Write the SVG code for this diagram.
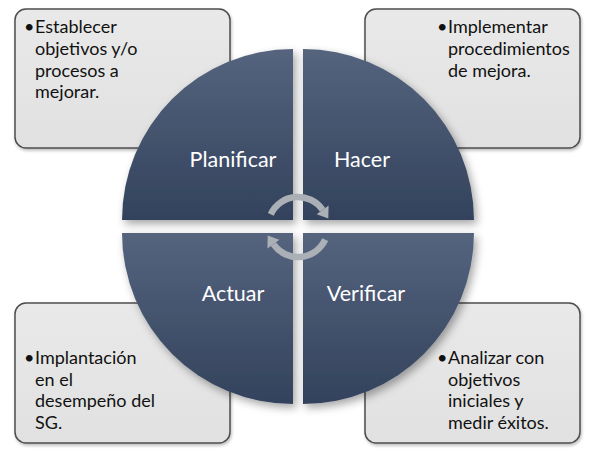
<svg xmlns="http://www.w3.org/2000/svg" width="600" height="452" viewBox="0 0 600 452">
<defs>
<linearGradient id="qg" x1="0" y1="0" x2="0" y2="1">
<stop offset="0" stop-color="#55647e"/>
<stop offset="1" stop-color="#33425c"/>
</linearGradient>
<linearGradient id="bg" x1="0" y1="0" x2="0" y2="1">
<stop offset="0" stop-color="#e9e9e9"/>
<stop offset="1" stop-color="#e1e1e1"/>
</linearGradient>
<filter id="sh" x="-20%" y="-20%" width="150%" height="150%">
<feDropShadow dx="3" dy="4" stdDeviation="4" flood-color="#000" flood-opacity="0.35"/>
</filter>
<filter id="bsh" x="-10%" y="-10%" width="130%" height="130%">
<feDropShadow dx="1" dy="2" stdDeviation="1.5" flood-color="#000" flood-opacity="0.25"/>
</filter>
</defs>
<style>
.box{fill:url(#bg);stroke:#4d4d4d;stroke-width:1.5}
.q{fill:url(#qg)}
.t{font-family:Lato,"Liberation Sans",sans-serif;font-size:18px;fill:#111}
.b{font-family:Lato,"Liberation Sans",sans-serif;font-size:18px;fill:#111}
.ql{font-family:Lato,"Liberation Sans",sans-serif;font-size:21.5px;fill:#fff;text-anchor:middle}
.arc{fill:none;stroke:#abafb6;stroke-width:6.5}
.ah{fill:#abafb6}
</style>
<rect width="600" height="452" fill="#fff"/>
<g id="box-planificar">
<rect class="box" x="15" y="9" width="215" height="139" rx="11" filter="url(#bsh)"/>
<text class="b" x="24" y="33">•</text>
<text class="t"><tspan x="35" y="33">Establecer</tspan><tspan x="35" y="55">objetivos y/o</tspan><tspan x="35" y="77">procesos a</tspan><tspan x="35" y="98">mejorar.</tspan></text>
</g>
<g id="box-hacer">
<rect class="box" x="365" y="9" width="215" height="139" rx="11" filter="url(#bsh)"/>
<text class="b" x="437" y="33">•</text>
<text class="t"><tspan x="448" y="33">Implementar</tspan><tspan x="448" y="55">procedimientos</tspan><tspan x="448" y="77">de mejora.</tspan></text>
</g>
<g id="box-actuar">
<rect class="box" x="15" y="303" width="215" height="140" rx="11" filter="url(#bsh)"/>
<text class="b" x="24" y="364">•</text>
<text class="t"><tspan x="35" y="364">Implantación</tspan><tspan x="35" y="386">en el</tspan><tspan x="35" y="407">desempeño del</tspan><tspan x="35" y="429">SG.</tspan></text>
</g>
<g id="box-verificar">
<rect class="box" x="365" y="303" width="215" height="140" rx="11" filter="url(#bsh)"/>
<text class="b" x="437" y="364">•</text>
<text class="t"><tspan x="448" y="364">Analizar con</tspan><tspan x="448" y="386">objetivos</tspan><tspan x="448" y="407">iniciales y</tspan><tspan x="448" y="429">medir éxitos.</tspan></text>
</g>
<g id="planificar">
<path class="q" filter="url(#sh)" d="M293,220 L122,220 A171,171 0 0 1 293,49 Z"/>
<text class="ql" x="233" y="167">Planificar</text>
</g>
<g id="hacer">
<path class="q" filter="url(#sh)" d="M303,220 L303,49 A171,171 0 0 1 474,220 Z"/>
<text class="ql" x="362" y="167">Hacer</text>
</g>
<g id="verificar">
<path class="q" filter="url(#sh)" d="M303,233 L474,233 A171,171 0 0 1 303,404 Z"/>
<text class="ql" x="366" y="301">Verificar</text>
</g>
<g id="actuar">
<path class="q" filter="url(#sh)" d="M293,233 L293,404 A171,171 0 0 1 122,233 Z"/>
<text class="ql" x="233" y="301">Actuar</text>
</g>
<g id="connectors">
<path class="arc" d="M270.8,214.3 A30,30 0 0 1 322.6,209.8"/>
<polygon class="ah" points="328.6,205.4 316.6,214.2 328.3,218.5"/>
<path class="arc" d="M325.2,239.7 A30,30 0 0 1 273.4,244.2"/>
<polygon class="ah" points="267.4,248.6 279.4,239.8 267.7,235.5"/>
</g>
</svg>
